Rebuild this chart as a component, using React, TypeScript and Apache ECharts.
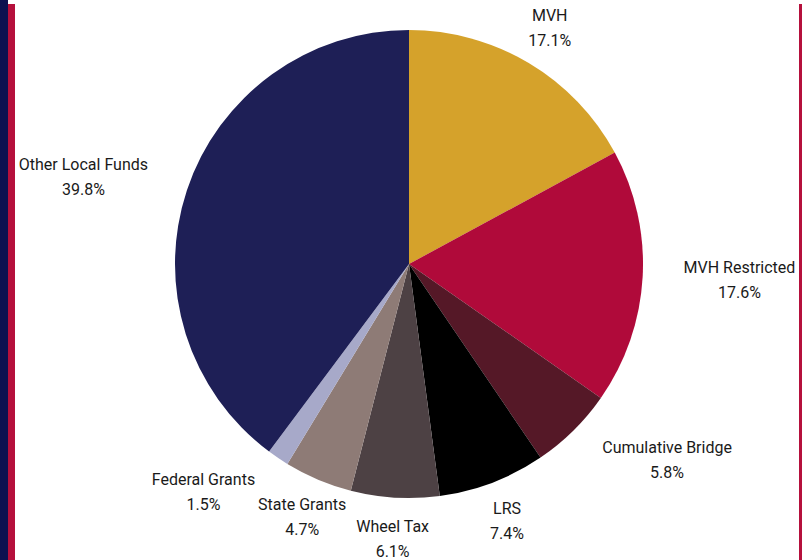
import React, { useEffect, useRef } from "react";
import * as echarts from "echarts";

const categories = [
  "MVH",
  "MVH Restricted",
  "Cumulative Bridge",
  "LRS",
  "Wheel Tax",
  "State Grants",
  "Federal Grants",
  "Other Local Funds",
];
const values = [17.1, 17.6, 5.8, 7.4, 6.1, 4.7, 1.5, 39.8];
const colors = [
  "#D5A22B",
  "#B00A3A",
  "#551827",
  "#000000",
  "#4D4144",
  "#8E7B76",
  "#A7A9C9",
  "#1E1F56",
];

const CX = 409;
const CY = 264;
const RADIUS = 234;
const LABEL_R = 275;

export default function App() {
  const ref = useRef<HTMLDivElement>(null);

  useEffect(() => {
    if (!ref.current) return;
    const chart = echarts.init(ref.current, undefined, { renderer: "svg" });
    const total = values.reduce((a, b) => a + b, 0);
    const midAngles: number[] = [];
    let acc = 0;
    values.forEach((v) => {
      const mid = acc + v / 2;
      midAngles.push(((90 - (mid / total) * 360) * Math.PI) / 180);
      acc += v;
    });

    chart.setOption({
      animation: false,
      backgroundColor: "#ffffff",
      graphic: [
        { type: "rect", shape: { x: 0, y: 0, width: 8, height: 560 }, style: { fill: "#0C1150" }, z: 100 },
        { type: "rect", shape: { x: 8, y: 4, width: 7, height: 556 }, style: { fill: "#B5103C" }, z: 100 },
        { type: "rect", shape: { x: 799, y: 4, width: 3, height: 556 }, style: { fill: "#B5103C" }, z: 100 },
      ],
      series: [
        {
          type: "pie",
          center: [CX, CY],
          radius: RADIUS,
          startAngle: 90,
          clockwise: true,
          avoidLabelOverlap: false,
          data: categories.map((name, i) => ({
            name,
            value: values[i],
            itemStyle: { color: colors[i] },
          })),
          itemStyle: { borderWidth: 0 },
          label: {
            show: true,
            position: "outside",
            formatter: (p: any) => `{a|${p.name}}\n{a|${p.value.toFixed(1)}%}`,
            rich: {
              a: {
                fontFamily: "Roboto",
                fontSize: 16,
                lineHeight: 25,
                color: "#1a1a1a",
                align: "center",
              },
            },
          },
          labelLine: { show: false },
          labelLayout: (params: any) => {
            const a = midAngles[params.dataIndex];
            const c = Math.cos(a);
            const s = Math.sin(a);
            const x = CX + LABEL_R * c;
            const y = CY - LABEL_R * s;
            const align = c > 0.54 ? "left" : c < -0.54 ? "right" : "center";
            return { x, y, align, verticalAlign: "middle" };
          },
          emphasis: { disabled: true },
        },
      ],
    });
    return () => chart.dispose();
  }, []);

  return (
    <div
      ref={ref}
      style={{ position: "fixed", left: 0, top: 0, width: 803, height: 560 }}
    />
  );
}
